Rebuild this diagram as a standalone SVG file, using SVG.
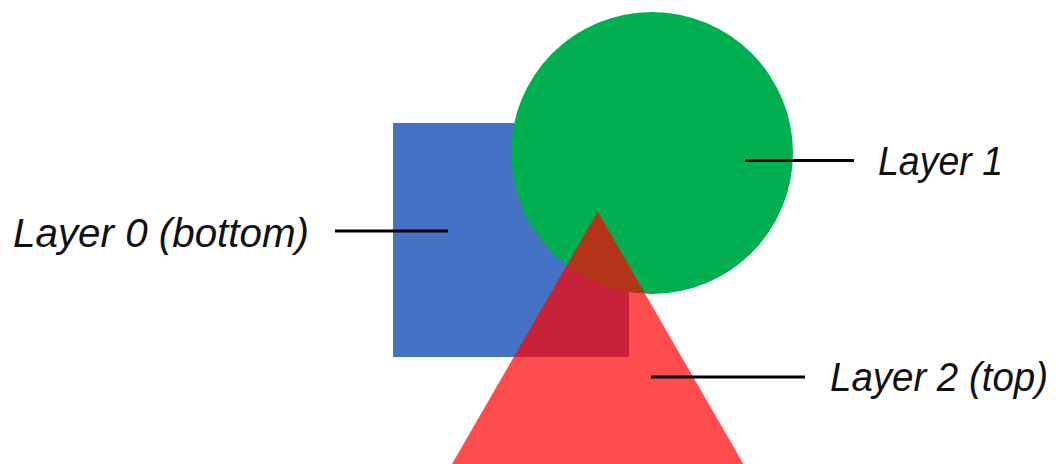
<svg xmlns="http://www.w3.org/2000/svg" width="1057" height="464" viewBox="0 0 1057 464">
<style>
.lbl{font-family:"Liberation Sans",Arial,sans-serif;font-style:italic;font-size:40px;fill:#111;}
.ln{stroke:#000;stroke-width:3;fill:none;}
</style>
<rect width="1057" height="464" fill="#fff"/>
<g id="layer0"><rect x="393" y="123" width="236" height="234" fill="#4472C4"/></g>
<g id="layer1"><circle cx="652" cy="153" r="141" fill="#00B050"/></g>
<g id="layer2"><polygon points="597.7,211.7 452,464 743.4,464" fill="#FF0000" fill-opacity="0.7"/></g>
<g id="connectors">
<line class="ln" x1="335" y1="231" x2="448" y2="231"/>
<line class="ln" x1="745" y1="160.5" x2="854" y2="160.5"/>
<line class="ln" x1="651" y1="377" x2="805" y2="377"/>
</g>
<g id="label0"><text class="lbl" x="13" y="246.5" textLength="296" lengthAdjust="spacingAndGlyphs">Layer 0 (bottom)</text></g>
<g id="label1"><text class="lbl" x="878" y="174.5" textLength="125" lengthAdjust="spacingAndGlyphs">Layer 1</text></g>
<g id="label2"><text class="lbl" x="830" y="390.5" textLength="218" lengthAdjust="spacingAndGlyphs">Layer 2 (top)</text></g>
</svg>
